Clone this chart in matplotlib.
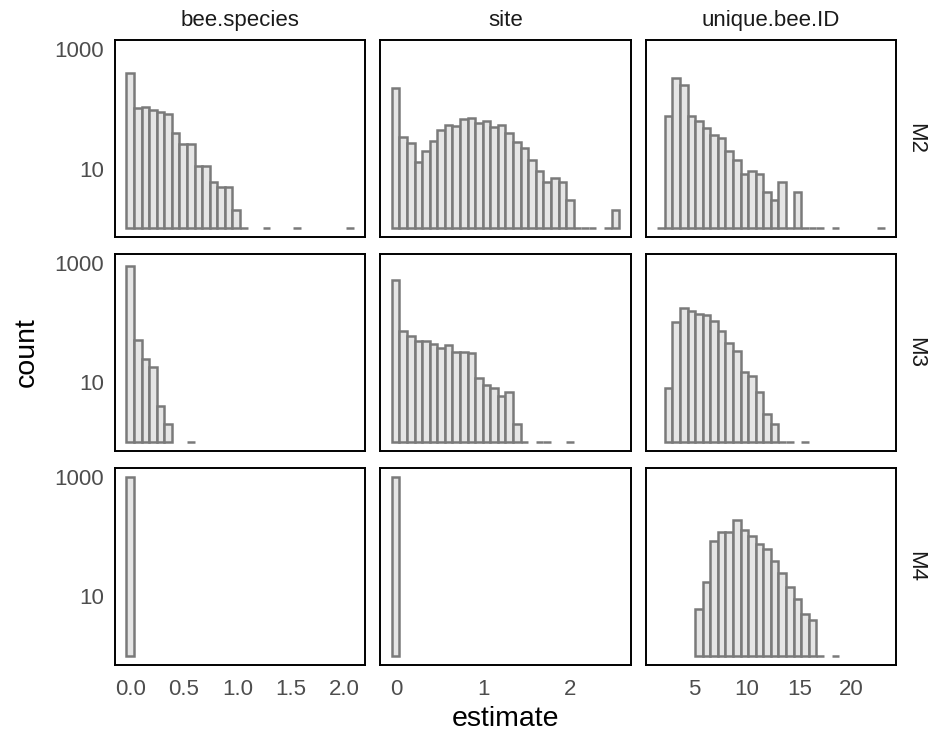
import numpy as np
import matplotlib
matplotlib.use('Agg')
import matplotlib.pyplot as plt
from matplotlib.ticker import NullLocator

plt.rcParams['font.family'] = ['Liberation Sans', 'DejaVu Sans']

params = ['bee.species', 'site', 'unique.bee.ID']
models = ['M2', 'M3', 'M4']

# centre of first / last bin for each parameter (30 bins, like geom_histogram)
est_min = [0.0, -0.01, 1.77]
est_max = [2.05, 2.5275, 22.8]
n_bins = 30

# bin counts
bee_species_M2 = [390, 104, 106, 94, 90, 81, 39, 26, 26, 11, 11, 6, 5, 5, 2, 1,
                  0, 0, 1, 0, 0, 0, 1, 0, 0, 0, 0, 0, 0, 1]
bee_species_M3 = [898, 52, 25, 18, 4, 2, 0, 0, 1] + [0] * 21
bee_species_M4 = [1000] + [0] * 29

site_M2 = [222, 34, 27, 13, 20, 29, 45, 53, 52, 67, 69, 59, 63, 50, 53, 39, 28,
           22, 14, 9, 6, 7, 6, 3, 1, 1, 1, 0, 1, 2]
site_M3 = [510, 72, 60, 50, 50, 44, 37, 42, 32, 32, 31, 12, 9, 8, 6, 7, 2, 1, 0,
           1, 1, 0, 0, 1, 0, 0, 0, 0, 0, 0]
site_M4 = [1000] + [0] * 29

bee_id_M2 = [1, 77, 333, 252, 75, 62, 47, 36, 33, 20, 14, 8, 9, 8, 4, 3, 6, 1, 4,
             1, 1, 1, 0, 1, 0, 0, 0, 0, 0, 1]
bee_id_M3 = [0, 8, 103, 177, 156, 141, 136, 107, 73, 46, 34, 15, 13, 7, 3, 2, 1,
             1, 0, 1, 0, 0, 0, 0, 0, 0, 0, 0, 0, 0]
bee_id_M4 = [0, 0, 0, 0, 0, 6, 17, 85, 119, 120, 188, 129, 102, 74, 62, 38, 24,
             14, 9, 5, 4, 1, 0, 1, 0, 0, 0, 0, 0, 0]

counts = {
    'M2': [bee_species_M2, site_M2, bee_id_M2],
    'M3': [bee_species_M3, site_M3, bee_id_M3],
    'M4': [bee_species_M4, site_M4, bee_id_M4],
}

x_ticks = [[0, 0.5, 1.0, 1.5, 2.0], [0, 1, 2], [5, 10, 15, 20]]
x_labels = [['0.0', '0.5', '1.0', '1.5', '2.0'], ['0', '1', '2'], ['5', '10', '15', '20']]

fig, axes = plt.subplots(3, 3, figsize=(9.34, 7.4), dpi=100)
plt.subplots_adjust(left=0.1231, right=0.9593, top=0.9459, bottom=0.1014,
                    wspace=0.061, hspace=0.083)

for j, p in enumerate(params):
    w = (est_max[j] - est_min[j]) / (n_bins - 1)
    edges = est_min[j] - w / 2 + w * np.arange(n_bins)
    lo, hi = edges[0], edges[-1] + w
    span = hi - lo
    for i, m in enumerate(models):
        ax = axes[i, j]
        c = np.array(counts[m][j])
        keep = c > 0
        ax.bar(edges[keep], c[keep] - 1, width=w, bottom=1, align='edge',
               color='#e5e5e5', edgecolor='#7a7a7a', linewidth=1.8)
        ax.set_yscale('log')
        ax.set_ylim(10 ** -0.15, 10 ** 3.15)
        ax.set_xlim(lo - 0.05 * span, hi + 0.05 * span)
        ax.yaxis.set_minor_locator(NullLocator())
        ax.xaxis.set_minor_locator(NullLocator())
        ax.tick_params(length=0, labelsize=16, labelcolor='#4d4d4d')
        ax.tick_params(axis='x', pad=10)
        ax.tick_params(axis='y', pad=8)
        for s in ax.spines.values():
            s.set_color('black')
            s.set_linewidth(1.4)
        ax.set_yticks([10, 1000])
        if j == 0:
            ax.set_yticklabels(['10', '1000'])
        else:
            ax.set_yticklabels([])
        ax.set_xticks(x_ticks[j])
        if i == 2:
            ax.set_xticklabels(x_labels[j])
        else:
            ax.set_xticklabels([])
        if i == 0:
            ax.set_title(p, fontsize=16, color='#1a1a1a', pad=10)
        if j == 2:
            ax.text(1.08, 0.5, m, transform=ax.transAxes, rotation=-90,
                    ha='center', va='center', fontsize=16, color='#1a1a1a')

fig.text(27 / 934, 1 - 352.5 / 740, 'count', rotation=90, ha='center',
         va='center', fontsize=20.5)
fig.text(505.5 / 934, 1 - 719 / 740, 'estimate', ha='center', va='center',
         fontsize=20.5)

plt.savefig('out.png', dpi=100)
